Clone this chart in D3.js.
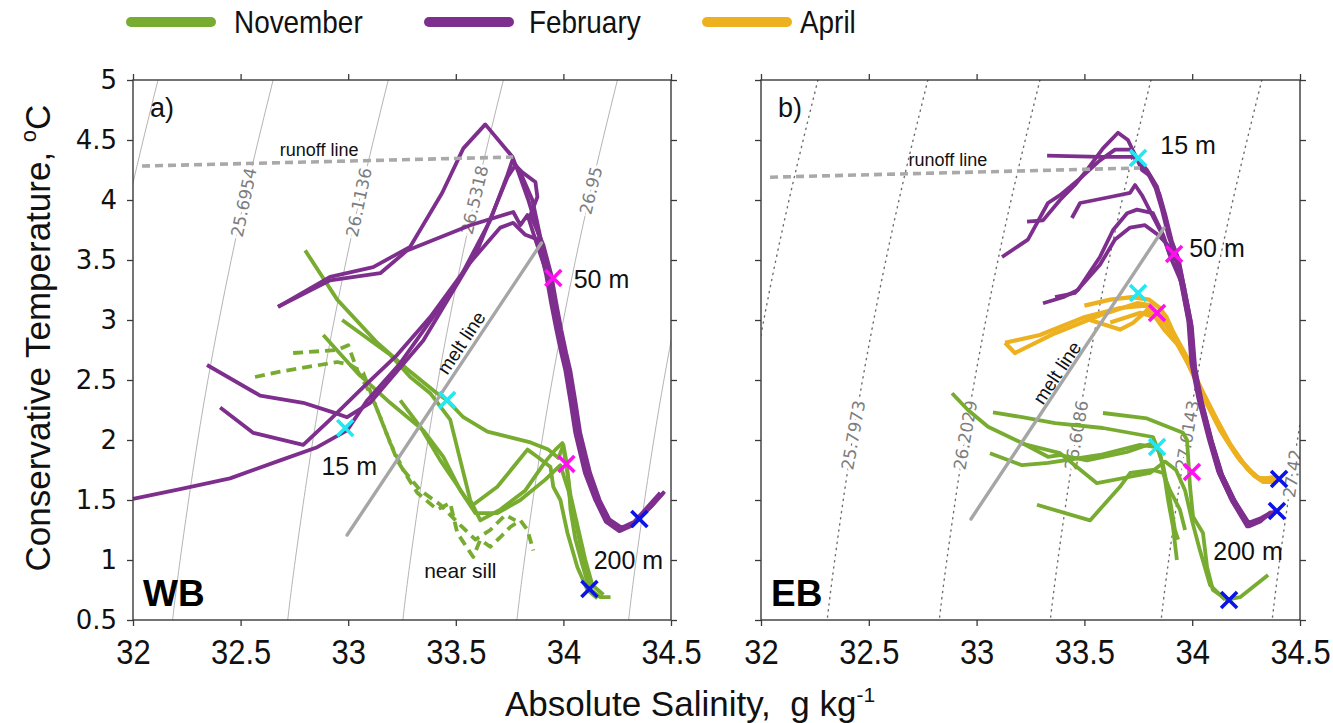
<!DOCTYPE html>
<html><head><meta charset="utf-8">
<script src="https://cdn.jsdelivr.net/npm/d3@7"></script>
<style>body{margin:0;background:#fff}</style>
</head><body>
<svg id="chart" width="1333" height="723"></svg>
<script>
// ---------------- DATA ----------------
const xTicks = [32, 32.5, 33, 33.5, 34, 34.5];
const yTicks = [0.5, 1, 1.5, 2, 2.5, 3, 3.5, 4, 4.5, 5];
const seriesNames = ["November", "February", "April"];

// Panel a (WB) profiles: [Absolute Salinity, Conservative Temperature]
const febA = [
 [[32.000,1.51],[32.219,1.59],[32.451,1.68],[32.684,1.83],[32.856,1.94],[32.995,2.08],[33.088,2.33],[33.242,2.64],[33.507,3.31],[33.660,3.83],[33.740,4.21],[33.763,4.33],[33.800,4.23],[33.856,4.00],[33.893,3.69],[33.930,3.375],[33.953,3.14],[33.977,2.92],[34.000,2.725],[34.019,2.58],[34.042,2.33],[34.065,2.06],[34.112,1.725],[34.158,1.50],[34.205,1.33],[34.265,1.25],[34.326,1.30],[34.405,1.44],[34.465,1.56]],
 [[32.344,2.625],[32.591,2.37],[32.791,2.31],[32.930,2.23],[32.995,2.19],[33.102,2.31],[33.349,2.83],[33.600,3.58],[33.740,4.19],[33.777,4.29],[33.809,4.23],[33.870,4.15],[33.879,4.025],[33.847,3.875],[33.907,3.625],[33.944,3.375],[33.967,3.14],[33.990,2.92],[34.013,2.725],[34.032,2.58],[34.055,2.33],[34.078,2.06],[34.124,1.725],[34.168,1.50],[34.213,1.34],[34.270,1.27],[34.330,1.32],[34.400,1.46],[34.450,1.56]],
 [[32.405,2.27],[32.558,2.06],[32.791,1.96],[32.916,2.17],[33.070,2.44],[33.228,2.71],[33.381,3.025],[33.567,3.48],[33.707,3.77],[33.767,3.81],[33.823,3.71],[33.883,3.67],[33.920,3.375],[33.943,3.14],[33.967,2.92],[33.990,2.725],[34.009,2.58],[34.032,2.33],[34.055,2.06],[34.100,1.725],[34.148,1.50],[34.197,1.32],[34.260,1.24],[34.322,1.29],[34.390,1.42]],
 [[32.674,3.11],[32.916,3.36],[33.116,3.44],[33.288,3.61],[33.437,4.06],[33.535,4.43],[33.637,4.63],[33.763,4.36],[33.791,4.23],[33.837,4.00],[33.879,3.75],[33.935,3.375],[33.958,3.14],[33.982,2.92],[34.005,2.725],[34.024,2.58],[34.047,2.33],[34.070,2.06],[34.118,1.725],[34.163,1.50],[34.210,1.33],[34.268,1.26],[34.330,1.31],[34.410,1.45],[34.470,1.57]],
 [[32.674,3.11],[32.916,3.33],[33.149,3.39],[33.274,3.58],[33.567,3.79],[33.767,3.90],[33.800,3.79],[33.833,3.875],[33.870,3.67],[33.925,3.375],[33.950,3.14],[33.972,2.92],[33.996,2.725],[34.015,2.58],[34.038,2.33],[34.060,2.06],[34.108,1.725],[34.152,1.50],[34.200,1.33],[34.260,1.25],[34.320,1.29],[34.380,1.40]]
];
const novA = [
 [[32.800,3.58],[32.949,3.17],[33.135,2.81],[33.288,2.57],[33.405,2.40],[33.460,2.33],[33.535,2.19],[33.647,2.07],[33.847,1.98],[33.930,1.92],[33.977,1.85],[34.000,1.96],[34.014,1.82],[34.023,1.67],[34.033,1.42],[34.056,1.17],[34.088,0.96],[34.121,0.76],[34.172,0.69],[34.219,0.69]],
 [[32.972,3.00],[33.195,2.71],[33.288,2.525],[33.381,2.39],[33.474,2.17],[33.521,1.83],[33.567,1.50],[33.614,1.33],[33.707,1.42],[33.823,1.58],[33.916,1.82],[33.963,1.92],[33.995,1.975],[34.014,1.79],[34.033,1.54],[34.070,1.25],[34.102,1.00],[34.135,0.79],[34.186,0.71]],
 [[32.884,2.875],[33.042,2.56],[33.195,2.31],[33.349,2.08],[33.442,1.86],[33.521,1.58],[33.591,1.39],[33.693,1.39],[33.800,1.50],[33.916,1.67],[33.986,1.79],[34.023,1.58],[34.056,1.33],[34.093,1.00],[34.126,0.79]],
 [[33.242,2.33],[33.335,2.11],[33.428,1.83],[33.553,1.50],[33.581,1.46],[33.693,1.61],[33.833,1.92],[33.879,1.86],[33.940,1.775],[33.953,1.61],[33.986,1.50],[34.019,1.225],[34.065,0.94],[34.112,0.75],[34.158,0.68]]
];
const novAsill = [
 [[32.567,2.525],[32.684,2.57],[32.949,2.65],[33.009,2.625],[33.070,2.56],[33.135,2.25],[33.228,1.83],[33.321,1.56],[33.414,1.42],[33.474,1.475],[33.507,1.225],[33.581,1.025],[33.614,1.17],[33.660,1.11],[33.707,1.19],[33.753,1.275],[33.800,1.33],[33.833,1.25],[33.860,1.08]],
 [[32.744,2.725],[32.949,2.75],[33.000,2.79],[33.042,2.58],[33.102,2.39],[33.149,2.19],[33.195,1.975],[33.256,1.75],[33.335,1.58],[33.428,1.46],[33.521,1.29],[33.591,1.17],[33.660,1.25],[33.730,1.375],[33.777,1.33]]
];

// Panel b (EB) profiles
const febB = [
 [[33.327,4.37],[33.572,4.36],[33.725,4.36],[33.758,4.32],[33.790,4.25],[33.837,4.11],[33.865,3.92],[33.897,3.69],[33.929,3.525],[33.957,3.275],[33.990,2.975],[34.004,2.625],[34.036,2.33],[34.083,2.00],[34.129,1.725],[34.189,1.50],[34.259,1.29],[34.314,1.33],[34.361,1.39],[34.393,1.41]],
 [[33.234,3.82],[33.308,3.83],[33.387,4.00],[33.456,4.125],[33.512,4.25],[33.586,4.43],[33.656,4.56],[33.702,4.50],[33.735,4.375],[33.767,4.25],[33.805,4.20],[33.848,4.05],[33.875,3.88],[33.905,3.66],[33.938,3.50],[33.965,3.25],[33.998,2.95],[34.014,2.60],[34.046,2.31],[34.093,1.98],[34.139,1.71],[34.198,1.49],[34.262,1.31],[34.320,1.35],[34.370,1.40]],
 [[33.118,3.525],[33.238,3.67],[33.331,3.975],[33.387,4.04],[33.480,4.18],[33.572,4.33],[33.642,4.42],[33.712,4.42],[33.758,4.31],[33.795,4.22],[33.830,4.10],[33.858,3.93],[33.890,3.70],[33.922,3.54],[33.950,3.29],[33.982,2.99],[33.996,2.64],[34.028,2.35],[34.075,2.02],[34.120,1.74],[34.180,1.51],[34.252,1.30],[34.310,1.32],[34.355,1.38]],
 [[33.442,3.85],[33.480,3.975],[33.619,4.025],[33.712,4.06],[33.735,4.125],[33.767,4.04],[33.814,3.875],[33.865,3.70],[33.900,3.52],[33.960,3.27],[33.992,2.97],[34.008,2.62],[34.040,2.33],[34.088,2.00],[34.133,1.73],[34.193,1.50],[34.262,1.28],[34.316,1.32],[34.365,1.40]],
 [[33.308,3.14],[33.401,3.19],[33.470,3.25],[33.572,3.525],[33.633,3.75],[33.698,3.89],[33.744,3.92],[33.818,3.89],[33.865,3.71],[33.895,3.55],[33.925,3.50],[33.955,3.26],[33.987,2.96],[34.000,2.63],[34.032,2.34],[34.080,2.01],[34.125,1.72],[34.185,1.49],[34.255,1.28],[34.310,1.32]],
 [[33.364,3.19],[33.456,3.225],[33.572,3.46],[33.642,3.67],[33.712,3.77],[33.781,3.79],[33.841,3.71],[33.900,3.60],[33.932,3.52],[33.962,3.28],[33.994,2.98],[34.010,2.61],[34.042,2.32],[34.090,1.99],[34.135,1.72],[34.195,1.50],[34.265,1.29],[34.318,1.34]]
];
const aprB = [
 [[33.132,2.81],[33.178,2.725],[33.364,2.89],[33.572,3.04],[33.744,3.14],[33.804,3.125],[33.851,3.04],[33.897,2.94],[33.976,2.69],[34.036,2.44],[34.096,2.225],[34.161,2.00],[34.222,1.83],[34.282,1.725],[34.314,1.67],[34.375,1.69],[34.403,1.675]],
 [[33.132,2.81],[33.294,2.875],[33.494,3.02],[33.665,3.10],[33.781,3.12],[33.818,3.08],[33.870,2.98],[33.945,2.78],[34.010,2.52],[34.068,2.30],[34.130,2.08],[34.195,1.90],[34.255,1.76],[34.300,1.69],[34.350,1.67],[34.390,1.66]],
 [[33.526,3.00],[33.665,2.92],[33.725,2.975],[33.790,3.08],[33.874,2.98],[33.925,2.84],[33.995,2.60],[34.055,2.38],[34.115,2.17],[34.178,1.96],[34.240,1.80],[34.290,1.70],[34.330,1.65],[34.380,1.65]],
 [[33.500,3.12],[33.620,3.17],[33.720,3.19],[33.800,3.17],[33.850,3.10],[33.882,3.02],[33.912,2.90],[33.960,2.74],[34.020,2.50],[34.080,2.27],[34.145,2.05],[34.210,1.86],[34.270,1.74],[34.310,1.68],[34.360,1.68]],
 [[33.620,2.98],[33.760,3.06],[33.830,3.02],[33.870,2.92],[33.930,2.80],[33.985,2.62],[34.045,2.40],[34.105,2.19],[34.168,1.98],[34.232,1.82],[34.285,1.71],[34.335,1.66],[34.395,1.68]]
];
const novB = [
 [[32.886,2.39],[32.960,2.25],[33.053,2.11],[33.211,1.975],[33.331,1.86],[33.387,1.875],[33.512,1.83],[33.698,1.90],[33.818,1.975],[33.851,1.89],[33.874,1.67],[33.888,1.50],[33.911,1.275],[33.929,1.00]],
 [[33.076,2.23],[33.211,2.19],[33.364,2.14],[33.586,2.10],[33.818,2.025],[33.837,1.94],[33.865,1.79],[33.897,1.50],[33.920,1.25],[33.935,1.17]],
 [[33.062,1.89],[33.211,1.79],[33.331,1.81],[33.572,1.875],[33.758,1.96],[33.837,1.94]],
 [[33.280,1.46],[33.526,1.33],[33.665,1.61],[33.712,1.725],[33.818,1.75],[33.865,1.725],[33.897,1.58],[33.943,1.42],[33.967,1.25]],
 [[33.586,2.225],[33.790,2.18],[33.957,2.06],[33.976,2.00],[33.990,1.61],[34.004,1.36],[34.050,1.225],[34.069,0.94],[34.096,0.75],[34.161,0.67],[34.222,0.69],[34.282,0.775],[34.352,0.875]],
 [[33.201,1.975],[33.387,1.89],[33.558,1.64],[33.804,1.725],[33.874,1.82],[33.925,1.75],[33.967,1.58],[33.999,1.33],[34.036,1.08],[34.083,0.79],[34.152,0.67]]
];

// Depth markers (15 m cyan, 50 m magenta, 200 m blue)
const cyanA = [[32.986,2.10],[33.460,2.333]];
const magentaA = [[33.953,3.35],[34.014,1.80]];
const blueA = [[34.353,1.342],[34.121,0.758]];
const cyanB = [[33.749,4.35],[33.749,3.225],[33.837,1.942]];
const magentaB = [[33.916,3.55],[33.837,3.058],[33.999,1.733]];
const blueB = [[34.403,1.675],[34.393,1.408],[34.171,0.667]];

// Isopycnals (sigma0), as [S, T] points
const isoA = [
 [[32.116,5],[31.982,4],[31.865,3]],
 [[32.651,5],[32.517,4],[32.400,3],[32.301,2],[32.219,1],[32.184,0.5]],
 [[33.186,5],[33.052,4],[32.935,3],[32.836,2],[32.754,1],[32.719,0.5]],
 [[33.721,5],[33.587,4],[33.470,3],[33.371,2],[33.289,1],[33.254,0.5]],
 [[34.251,5],[34.117,4],[34.000,3],[33.901,2],[33.819,1],[33.784,0.5]],
 [[34.770,5],[34.636,4],[34.519,3],[34.420,2],[34.338,1],[34.303,0.5]]
];
const isoLabelsA = ["", "25.6954", "26.1136", "26.5318", "26.95", ""];
const isoLabelTA = [0, 3.98, 3.98, 4.0, 4.08, 0];
const isoB = [
 [[32.264,5],[32.130,4],[32.013,3],[31.914,2]],
 [[32.774,5],[32.640,4],[32.523,3],[32.424,2],[32.342,1],[32.307,0.5]],
 [[33.294,5],[33.160,4],[33.043,3],[32.944,2],[32.862,1],[32.827,0.5]],
 [[33.809,5],[33.675,4],[33.558,3],[33.459,2],[33.377,1],[33.342,0.5]],
 [[34.323,5],[34.189,4],[34.072,3],[33.973,2],[33.891,1],[33.856,0.5]],
 [[34.838,5],[34.704,4],[34.587,3],[34.488,2],[34.406,1],[34.371,0.5]]
];
const isoLabelsB = ["", "25.7973", "26.2029", "26.6086", "27.0143", "27.42"];
const isoLabelTB = [0, 2.04, 2.04, 2.04, 2.04, 1.72];

// Runoff and melt lines
const runoffA = [[32.042,4.283],[33.767,4.358]];
const runoffB = [[32.042,4.19],[33.758,4.267]];
const meltA = [[32.995,1.208],[33.898,3.642]];
const meltB = [[32.974,1.342],[33.869,3.767]];

// Text annotations (data coordinates)
const notesA = [
 {t:"runoff line", S:32.865, T:4.417, size:18},
 {t:"15 m", S:33.005, T:1.78, size:25},
 {t:"50 m", S:34.177, T:3.34, size:25},
 {t:"200 m", S:34.302, T:1.00, size:25},
 {t:"near sill", S:33.521, T:0.91, size:21}
];
const notesB = [
 {t:"runoff line", S:32.867, T:4.333, size:18},
 {t:"15 m", S:33.981, T:4.46, size:25},
 {t:"50 m", S:34.115, T:3.60, size:25},
 {t:"200 m", S:34.259, T:1.075, size:25}
];
const meltLabelA = {S:33.526, T:2.81};
const meltLabelB = {S:33.373, T:2.56};

// ---------------- DRAWING ----------------
const C = {nov:"#77ac30", feb:"#7e2f8e", apr:"#edb120", cyan:"#22e8f2", magenta:"#ff10f0", blue:"#0a14e6"};
const svg = d3.select("#chart");
svg.append("rect").attr("width",1333).attr("height",723).attr("fill","#fff");
const defs = svg.append("defs");
const SANS = "'Liberation Sans', Arial, sans-serif";
const NX = 0.86; // horizontal squeeze for narrow-looking labels

const panels = [
 {id:"a", x0:133, x1:671, letter:"a)", basin:"WB", iso:isoA, isoLab:isoLabelsA, isoT:isoLabelTA, dotted:false,
  runoff:runoffA, melt:meltA, meltLab:meltLabelA, notes:notesA, yLabels:true,
  nov:novA, novDash:novAsill, feb:febA, apr:[], cyan:cyanA, magenta:magentaA, blue:blueA},
 {id:"b", x0:761, x1:1300, letter:"b)", basin:"EB", iso:isoB, isoLab:isoLabelsB, isoT:isoLabelTB, dotted:true,
  runoff:runoffB, melt:meltB, meltLab:meltLabelB, notes:notesB, yLabels:false,
  nov:novB, novDash:[], feb:febB, apr:aprB, cyan:cyanB, magenta:magentaB, blue:blueB}
];

function sAtT(pts, T) {
  for (let i = 0; i < pts.length - 1; i++) {
    const a = pts[i], b = pts[i+1];
    if ((T <= a[1] && T >= b[1])) {
      const f = (a[1] - T) / (a[1] - b[1]);
      return {S: a[0] + f * (b[0] - a[0]), i};
    }
  }
  return {S: pts[0][0], i:0};
}

panels.forEach(p => {
  const x = d3.scaleLinear().domain([32, 34.5]).range([p.x0, p.x1]);
  const y = d3.scaleLinear().domain([0.5, 5]).range([620, 80]);
  const g = svg.append("g");
  defs.append("clipPath").attr("id", "clip-" + p.id)
    .append("rect").attr("x", p.x0).attr("y", 80).attr("width", p.x1 - p.x0).attr("height", 540);
  const line = d3.line().x(d => x(d[0])).y(d => y(d[1]));
  const smooth = d3.line().x(d => x(d[0])).y(d => y(d[1])).curve(d3.curveNatural);

  // isopycnals
  const ig = g.append("g").attr("clip-path", `url(#clip-${p.id})`);
  ig.selectAll("path").data(p.iso).join("path")
    .attr("d", smooth).attr("fill", "none")
    .attr("stroke", p.dotted ? "#6f6f6f" : "#ababab")
    .attr("stroke-width", p.dotted ? 1.4 : 0.9)
    .attr("stroke-dasharray", p.dotted ? "1.2,5" : null)
    .attr("stroke-linecap", "round");
  p.iso.forEach((pts, k) => {
    if (!p.isoLab[k]) return;
    const r = sAtT(pts, p.isoT[k]);
    const a = pts[r.i], b = pts[r.i+1];
    const ang = Math.atan2(y(a[1]) - y(b[1]), x(a[0]) - x(b[0])) * 180 / Math.PI;
    ig.append("text")
      .attr("transform", `translate(${x(r.S)},${y(p.isoT[k])}) rotate(${ang})`)
      .attr("text-anchor", "middle").attr("dominant-baseline", "central")
      .attr("font-family", "'DejaVu Sans', sans-serif").attr("font-size", 17)
      .attr("fill", "#7d7d7d").attr("stroke", "#fff").attr("stroke-width", 6)
      .attr("paint-order", "stroke").text(p.isoLab[k]);
  });

  // profiles
  const pg = g.append("g").attr("fill", "none").attr("stroke-linejoin", "round").attr("stroke-linecap", "butt");
  pg.selectAll("path.nov").data(p.nov).join("path").attr("class", "nov")
    .attr("d", line).attr("stroke", C.nov).attr("stroke-width", 3.8);
  pg.selectAll("path.novd").data(p.novDash).join("path").attr("class", "novd")
    .attr("d", line).attr("stroke", C.nov).attr("stroke-width", 3.8).attr("stroke-dasharray", "10,6");
  pg.selectAll("path.apr").data(p.apr).join("path").attr("class", "apr")
    .attr("d", line).attr("stroke", C.apr).attr("stroke-width", 4.2);
  pg.selectAll("path.feb").data(p.feb).join("path").attr("class", "feb")
    .attr("d", line).attr("stroke", C.feb).attr("stroke-width", 3.8);

  // runoff & melt lines
  g.append("path").attr("d", line(p.runoff)).attr("stroke", "#a9a9a9").attr("stroke-width", 3.6)
    .attr("stroke-dasharray", "8,5").attr("fill", "none");
  g.append("path").attr("d", line(p.melt)).attr("stroke", "#a6a6a6").attr("stroke-width", 3.4)
    .attr("stroke-linecap", "round").attr("fill", "none");
  const mAng = Math.atan2(y(p.melt[1][1]) - y(p.melt[0][1]), x(p.melt[1][0]) - x(p.melt[0][0])) * 180 / Math.PI;
  g.append("text").attr("transform", `translate(${x(p.meltLab.S)},${y(p.meltLab.T)}) rotate(${mAng})`)
    .attr("text-anchor", "middle").attr("dominant-baseline", "central")
    .attr("font-family", SANS).attr("font-size", 19).attr("fill", "#111")
    .text("melt line");

  // markers
  const mk = (arr, col) => g.append("g").selectAll("path").data(arr).join("path")
    .attr("d", d => { const cx = x(d[0]), cy = y(d[1]), r = 8;
      return `M${cx-r},${cy-r}L${cx+r},${cy+r}M${cx-r},${cy+r}L${cx+r},${cy-r}`; })
    .attr("stroke", col).attr("stroke-width", 3.6).attr("fill", "none");
  mk(p.cyan, C.cyan); mk(p.magenta, C.magenta); mk(p.blue, C.blue);

  // notes
  p.notes.forEach(n => {
    g.append("text").attr("x", x(n.S)).attr("y", y(n.T))
      .attr("text-anchor", "middle").attr("dominant-baseline", "central")
      .attr("font-family", SANS).attr("font-size", n.size)
      .attr("fill", "#111").text(n.t);
  });
  g.append("text").attr("x", p.x0 + 17).attr("y", 117)
    .attr("font-family", SANS).attr("font-size", 27).attr("fill", "#111").text(p.letter);
  g.append("text").attr("x", p.x0 + 10).attr("y", 606)
    .attr("font-family", SANS).attr("font-weight", "bold")
    .attr("font-size", 37).attr("fill", "#000").text(p.basin);

  // frame and axes
  const axCol = "#3a3a3a";
  const styleAx = sel => { sel.select(".domain").remove(); sel.selectAll("line").attr("stroke", axCol).attr("stroke-width", 1.3); };
  g.append("g").attr("transform", "translate(0,620)")
    .call(d3.axisBottom(x).tickValues(xTicks).tickSize(6).tickSizeOuter(0).tickPadding(12).tickFormat(d => String(d)))
    .call(styleAx)
    .call(s => s.selectAll("text").attr("font-family", SANS).attr("font-size", 36).attr("fill", "#111")
      .attr("transform", `scale(${NX},1)`));
  g.append("g").attr("transform", "translate(0,80)")
    .call(d3.axisTop(x).tickValues(xTicks).tickSize(6).tickFormat("")).call(styleAx);
  g.append("g").attr("transform", `translate(${p.x0},0)`)
    .call(d3.axisLeft(y).tickValues(yTicks).tickSize(6).tickPadding(10).tickFormat(p.yLabels ? (d => String(d)) : ""))
    .call(styleAx)
    .call(s => s.selectAll("text").attr("font-family", "'DejaVu Sans', sans-serif").attr("font-size", 26).attr("fill", "#111"));
  g.append("g").attr("transform", `translate(${p.x1},0)`)
    .call(d3.axisRight(y).tickValues(yTicks).tickSize(6).tickFormat("")).call(styleAx);
  g.append("rect").attr("x", p.x0).attr("y", 80).attr("width", p.x1 - p.x0).attr("height", 540)
    .attr("fill", "none").attr("stroke", axCol).attr("stroke-width", 1.4);
});

// axis titles
svg.append("text").attr("transform", "translate(50,338) rotate(-90)")
  .attr("text-anchor", "middle").attr("font-family", SANS).attr("font-size", 35).attr("fill", "#111")
  .call(t => { t.append("tspan").text("Conservative Temperature, ");
    t.append("tspan").attr("font-size", 22).attr("dy", -14).text("o");
    t.append("tspan").attr("dy", 14).text("C"); });
svg.append("text").attr("x", 690).attr("y", 716)
  .attr("text-anchor", "middle").attr("font-family", SANS).attr("font-size", 35).attr("fill", "#111")
  .call(t => { t.append("tspan").text("Absolute Salinity,\u00a0 g kg");
    t.append("tspan").attr("font-size", 21).attr("dy", -14).text("-1"); });

// legend
const legendCols = [C.nov, C.feb, C.apr];
const legendLineX = [127, 425, 703];
const legendTextX = [234, 529, 800];
seriesNames.forEach((n, i) => {
  svg.append("line").attr("x1", legendLineX[i] + 4).attr("x2", legendLineX[i] + 84).attr("y1", 22).attr("y2", 22)
    .attr("stroke", legendCols[i]).attr("stroke-width", 10).attr("stroke-linecap", "round");
  svg.append("text").attr("transform", `translate(${legendTextX[i]},33) scale(0.9,1)`)
    .attr("font-family", SANS).attr("font-size", 31).attr("fill", "#111").text(n);
});
</script>
</body></html>
